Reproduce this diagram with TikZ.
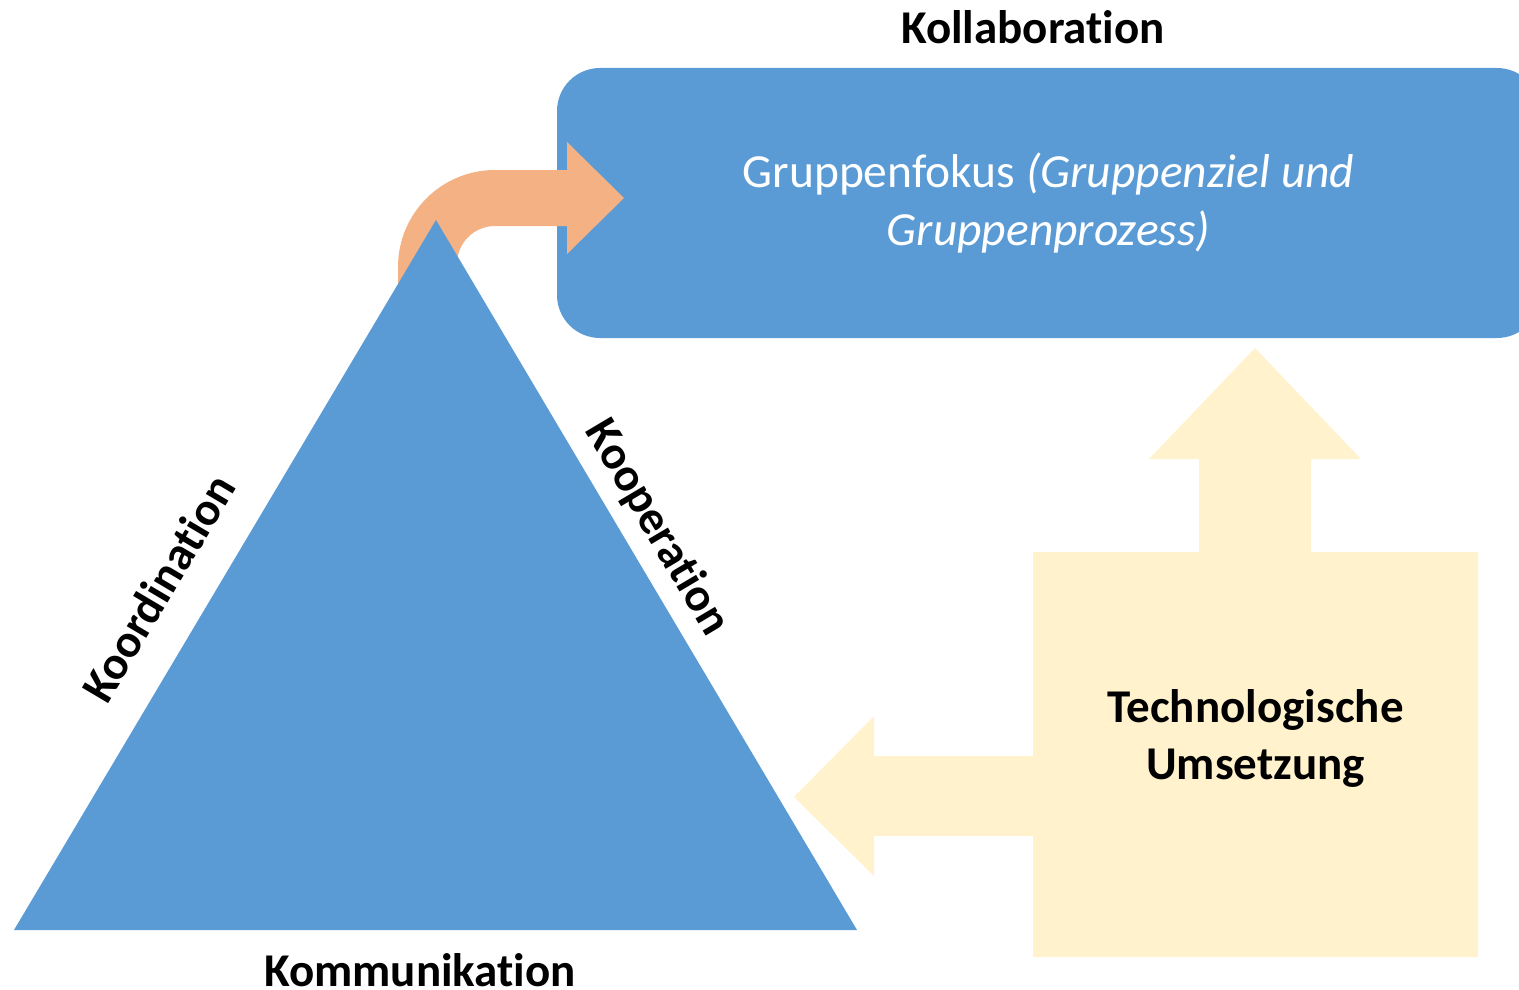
\documentclass[tikz,border=0pt]{standalone}
\usepackage{fontspec}
\setmainfont{Carlito}[Ligatures={NoCommon,NoRequired,NoContextual},RawFeature={-liga,-dlig,-clig}]
\definecolor{triblue}{HTML}{5B9BD5}
\definecolor{bentorange}{HTML}{F4B183}
\definecolor{techyellow}{HTML}{FFF2CC}
% t followed by i, kept as two separate glyphs
\newcommand{\tsepi}{t\kern0pt i}
\begin{document}
\begin{tikzpicture}[x=1pt,y=-1pt,
  lbl/.style={font=\fontsize{47}{57}\selectfont\bfseries, text=black, inner sep=0pt, align=center},
  focusbox/.style={fill=triblue, rounded corners=43pt, text=white, align=center,
    font=\fontsize{47.5}{58}\selectfont, minimum width=983pt, minimum height=270pt, inner sep=0pt}]
\useasboundingbox (0,0) rectangle (1519,990);

% group focus box (its right end runs past the page edge)
\node[focusbox] (focus) at (1048.5,203)
  {Gruppenfokus \textit{(Gruppenziel und}\\\textit{Gruppenprozess)}};
\node[lbl, anchor=base] (kollab) at (1033,44) {Kollabora\tsepi on};

% bent arrow from the triangle's apex into the focus box
\fill[bentorange] (398,300) -- (398,267)
  .. controls (398,213.4) and (441.4,170) .. (495,170)
  -- (567,170) -- (567,142) -- (624,198) -- (567,254) -- (567,226) -- (495,226)
  .. controls (474,226) and (457,243) .. (457,264)
  -- (457,300) -- cycle;

% triangle
\coordinate (apex) at (436,220);
\coordinate (bl) at (14,930);
\coordinate (br) at (857,930);
\fill[triblue] (apex) -- (br) -- (bl) -- cycle;

\node[lbl, rotate=59.3] (koord) at (158,588) {Koordina\tsepi on};
\node[lbl, rotate=-59.3] (koop) at (657,528) {Koopera\tsepi on};
\node[lbl, anchor=base] (komm) at (420,986) {Kommunika\tsepi on};

% technology block with arrows pointing left and up
\fill[techyellow] (794,797) -- (874,716) -- (874,756) -- (1033,756) -- (1033,552)
  -- (1199,552) -- (1199,459) -- (1149,459) -- (1255,348) -- (1361,459) -- (1311,459)
  -- (1311,552) -- (1478,552) -- (1478,957) -- (1033,957) -- (1033,836)
  -- (874,836) -- (874,876) -- cycle;
\node[lbl, anchor=base] (tech) at (1255.5,779) {Technologische\\Umsetzung};
\end{tikzpicture}
\end{document}
